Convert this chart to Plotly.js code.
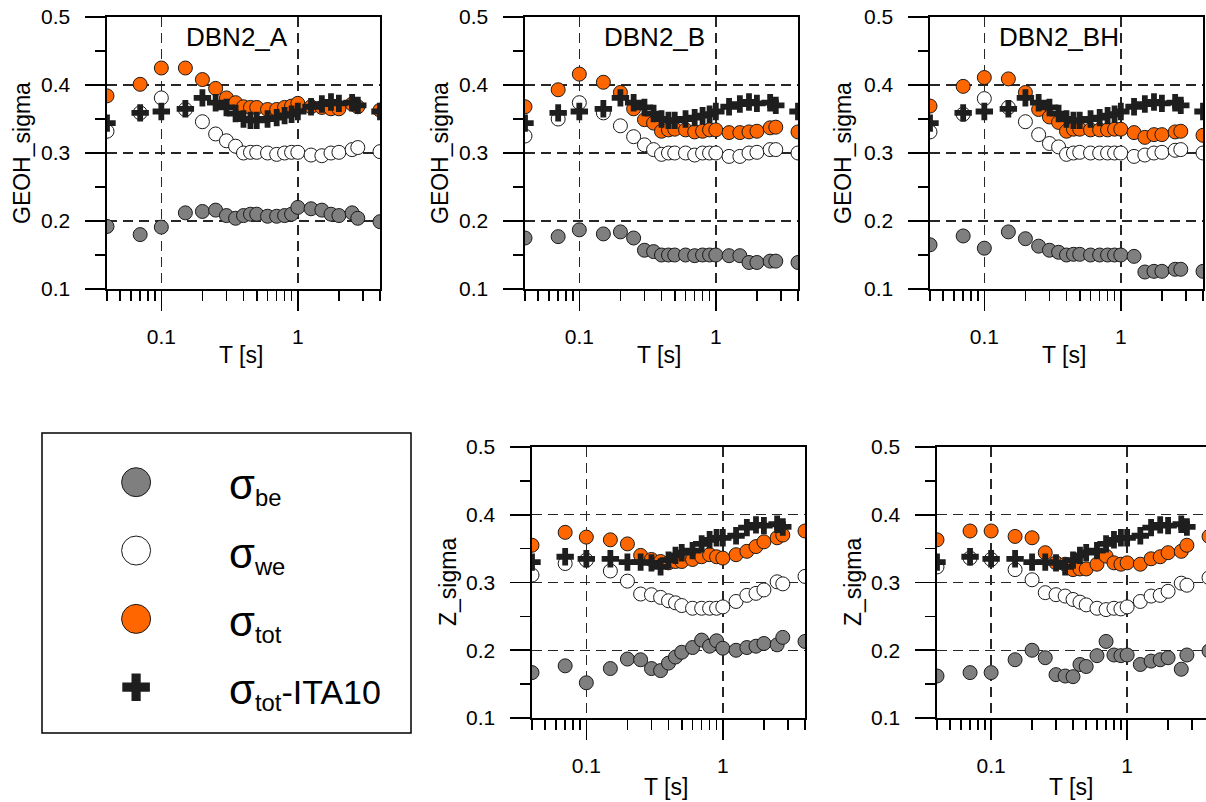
<!DOCTYPE html>
<html>
<head>
<meta charset="utf-8">
<script src="https://cdn.plot.ly/plotly-3.0.1.min.js"></script>
<style>html,body{margin:0;padding:0;background:#fff;}#chart{width:1206px;height:802px;}</style>
</head>
<body>
<div id="chart"></div>
<script>
// Periods (s)
const T = [0.04, 0.07, 0.1, 0.15, 0.2, 0.25, 0.3, 0.35, 0.4, 0.45, 0.5, 0.6, 0.7, 0.8, 0.9, 1.0, 1.25, 1.5, 1.75, 2.0, 2.5, 2.75, 4.0];

// DBN2_A (GEOH)
const A_be  = [0.192,0.180,0.191,0.212,0.214,0.216,0.208,0.204,0.208,0.210,0.210,0.207,0.207,0.208,0.210,0.220,0.218,0.216,0.210,0.208,0.212,0.204,0.199];
const A_we  = [0.332,0.359,0.381,0.364,0.346,0.328,0.318,0.310,0.300,0.301,0.301,0.300,0.298,0.300,0.301,0.301,0.297,0.296,0.300,0.301,0.305,0.308,0.302];
const A_tot = [0.384,0.401,0.425,0.425,0.408,0.395,0.381,0.374,0.368,0.367,0.367,0.364,0.364,0.367,0.369,0.373,0.368,0.367,0.365,0.365,0.372,0.368,0.363];
// DBN2_B (GEOH)
const B_be  = [0.175,0.177,0.187,0.181,0.184,0.175,0.157,0.155,0.150,0.150,0.150,0.150,0.149,0.150,0.150,0.150,0.149,0.149,0.139,0.139,0.141,0.141,0.139];
const B_we  = [0.325,0.350,0.374,0.359,0.340,0.324,0.312,0.305,0.298,0.300,0.300,0.300,0.297,0.300,0.300,0.300,0.295,0.295,0.300,0.301,0.305,0.305,0.300];
const B_tot = [0.368,0.393,0.416,0.404,0.389,0.365,0.349,0.344,0.332,0.334,0.335,0.334,0.331,0.332,0.334,0.334,0.330,0.330,0.331,0.332,0.337,0.338,0.331];
// DBN2_BH (GEOH)
const BH_be  = [0.165,0.178,0.160,0.184,0.174,0.163,0.157,0.154,0.150,0.151,0.151,0.150,0.150,0.150,0.150,0.150,0.148,0.125,0.126,0.126,0.129,0.129,0.126];
const BH_we  = [0.331,0.357,0.380,0.367,0.346,0.327,0.314,0.309,0.298,0.300,0.301,0.300,0.300,0.300,0.300,0.300,0.295,0.297,0.300,0.301,0.304,0.305,0.300];
const BH_tot = [0.369,0.398,0.411,0.409,0.389,0.364,0.353,0.345,0.332,0.335,0.335,0.334,0.334,0.334,0.335,0.335,0.330,0.323,0.327,0.327,0.331,0.332,0.326];
// ITA10 total sigma (GEOH)
const GEOH_ITA10 = [0.344,0.359,0.361,0.365,0.381,0.374,0.367,0.358,0.350,0.348,0.348,0.350,0.352,0.355,0.357,0.361,0.368,0.372,0.375,0.373,0.374,0.370,0.361];

// Z component, panel 1
const Z1_be  = [0.167,0.177,0.152,0.173,0.187,0.186,0.173,0.170,0.181,0.190,0.197,0.204,0.215,0.206,0.214,0.203,0.200,0.204,0.206,0.210,0.208,0.219,0.213];
const Z1_we  = [0.311,0.328,0.333,0.317,0.302,0.283,0.282,0.278,0.273,0.270,0.266,0.262,0.262,0.262,0.262,0.264,0.272,0.281,0.284,0.289,0.301,0.298,0.309];
const Z1_tot = [0.355,0.374,0.367,0.363,0.357,0.340,0.334,0.331,0.329,0.331,0.331,0.334,0.338,0.341,0.338,0.336,0.341,0.346,0.353,0.360,0.366,0.370,0.376];
// Z component, panel 2
const Z2_be  = [0.162,0.167,0.167,0.186,0.200,0.189,0.164,0.162,0.161,0.179,0.176,0.192,0.213,0.193,0.192,0.193,0.179,0.184,0.186,0.189,0.172,0.193,0.199];
const Z2_we  = [0.323,0.336,0.334,0.319,0.304,0.285,0.282,0.280,0.275,0.271,0.267,0.262,0.260,0.262,0.261,0.264,0.272,0.280,0.281,0.287,0.299,0.296,0.307];
const Z2_tot = [0.363,0.376,0.376,0.368,0.366,0.344,0.329,0.327,0.319,0.320,0.320,0.327,0.339,0.329,0.327,0.329,0.327,0.335,0.338,0.344,0.346,0.355,0.368];
// ITA10 total sigma (Z)
const Z_ITA10 = [0.330,0.338,0.335,0.335,0.330,0.330,0.329,0.323,0.333,0.340,0.344,0.347,0.357,0.363,0.366,0.366,0.369,0.381,0.385,0.384,0.386,0.382,null];

const panelTitles = ['DBN2_A', 'DBN2_B', 'DBN2_BH', '', ''];
const yTitles = ['GEOH_sigma', 'GEOH_sigma', 'GEOH_sigma', 'Z_sigma', 'Z_sigma'];
const xTitle = 'T [s]';
const seriesNames = ['be', 'we', 'tot', 'tot-ITA10'];
const xTickVals = [0.1, 1];
const xTickText = ['0.1', '1'];
const xMinorVals = [0.04,0.05,0.06,0.07,0.08,0.09,0.2,0.3,0.4,0.5,0.6,0.7,0.8,0.9,2,3,4];
const yTickVals = [0.1, 0.2, 0.3, 0.4, 0.5];
const yTickText = ['0.1', '0.2', '0.3', '0.4', '0.5'];
const yMinorVals = [0.15, 0.25, 0.35, 0.45];

const panels = [
  {be: A_be,  we: A_we,  tot: A_tot,  ita: GEOH_ITA10},
  {be: B_be,  we: B_we,  tot: B_tot,  ita: GEOH_ITA10},
  {be: BH_be, we: BH_we, tot: BH_tot, ita: GEOH_ITA10},
  {be: Z1_be, we: Z1_we, tot: Z1_tot, ita: Z_ITA10},
  {be: Z2_be, we: Z2_we, tot: Z2_tot, ita: Z_ITA10}
];

// ---- styles / layout ----
const W = 1206, H = 802;
const FONT = 'Liberation Sans, Arial, Helvetica, sans-serif';
const px = v => v / W;
const py = v => 1 - v / H;

// plot areas in pixels [x0, x1, ytop, ybottom]
const boxes = [
  [107, 380, 17, 289],
  [525, 798, 17, 289],
  [930, 1203, 17, 289],
  [532, 805, 447, 718],
  [937, 1206, 447, 718]
];
const xRanges = [
  [Math.log10(0.04), Math.log10(4)],
  [Math.log10(0.04), Math.log10(4)],
  [Math.log10(0.04), Math.log10(4)],
  [Math.log10(0.04), Math.log10(4)],
  [Math.log10(0.04), Math.log10(3.8)]
];

const styles = {
  be:  {symbol: 'circle', size: 14, color: '#7f7f7f', line: {color: '#1a1a1a', width: 1}},
  we:  {symbol: 'circle', size: 14, color: '#ffffff', line: {color: '#1a1a1a', width: 1}},
  tot: {symbol: 'circle', size: 14, color: '#ff6600', line: {color: '#1a1a1a', width: 1}},
  ita: {symbol: 'cross',  size: 14.5, color: '#1e1e1e', line: {width: 0}}
};
const legendStyles = {
  be:  {symbol: 'circle', size: 29, color: '#7f7f7f', line: {color: '#1a1a1a', width: 1}},
  we:  {symbol: 'circle', size: 29, color: '#ffffff', line: {color: '#1a1a1a', width: 1}},
  tot: {symbol: 'circle', size: 29, color: '#ff6600', line: {color: '#1a1a1a', width: 1}},
  ita: {symbol: 'cross',  size: 23, color: '#1e1e1e', line: {width: 0}}
};
const keys = ['be', 'we', 'tot', 'ita'];

const data = [];
const layout = {
  width: W, height: H,
  margin: {l: 0, r: 0, t: 0, b: 0},
  paper_bgcolor: '#fff', plot_bgcolor: '#fff',
  showlegend: false,
  font: {family: FONT, color: '#000'},
  annotations: [],
  shapes: []
};

panels.forEach((p, i) => {
  const n = i + 1;
  const xa = 'x' + n, ya = 'y' + n;
  keys.forEach(k => {
    data.push({
      type: 'scatter', mode: 'markers', x: T, y: p[k],
      xaxis: xa, yaxis: ya, marker: styles[k], hoverinfo: 'x+y'
    });
  });
  const b = boxes[i];
  layout['xaxis' + n] = {
    type: 'log', domain: [px(b[0]), px(b[1])], range: xRanges[i], anchor: ya,
    showline: true, linecolor: '#000', linewidth: 2, mirror: true,
    ticks: 'outside', ticklen: 20, tickwidth: 1.6, tickcolor: '#000',
    tickmode: 'array', tickvals: xTickVals, ticktext: xTickText,
    tickfont: {family: FONT, size: 21, color: '#000'}, ticklabelstandoff: 8,
    showgrid: true, gridcolor: '#262626', gridwidth: 1.4, griddash: '10px,6px',
    zeroline: false,
    minor: {ticks: 'outside', ticklen: 10, tickwidth: 1.6, tickcolor: '#000',
            tickmode: 'array', tickvals: xMinorVals, showgrid: false}
  };
  layout['yaxis' + n] = {
    domain: [py(b[3]), py(b[2])], range: [0.1, 0.5], anchor: xa,
    showline: true, linecolor: '#000', linewidth: 2, mirror: i === 4 ? false : true,
    ticks: 'outside', ticklen: 20, tickwidth: 1.6, tickcolor: '#000',
    tickmode: 'array', tickvals: yTickVals, ticktext: yTickText.map(t => t + '\u2002'),
    tickfont: {family: FONT, size: 21, color: '#000'},
    showgrid: true, gridcolor: '#262626', gridwidth: 1.4, griddash: '10px,6px',
    zeroline: false,
    minor: {ticks: 'outside', ticklen: 10, tickwidth: 1.6, tickcolor: '#000',
            tickmode: 'array', tickvals: yMinorVals, showgrid: false}
  };
});

// axis titles & panel titles
const yTitlePos = [[22, 153], [440, 153], [843, 153], [448, 582], [853, 582]];
const xTitlePos = [[241, 355], [659, 355], [1064, 355], [666, 787], [1071, 787]];
const panelTitlePos = [[237, 37], [654, 37], [1059, 37]];
yTitles.forEach((t, i) => {
  layout.annotations.push({
    text: t, xref: 'paper', yref: 'paper', x: px(yTitlePos[i][0]), y: py(yTitlePos[i][1]),
    textangle: -90, showarrow: false, xanchor: 'center', yanchor: 'middle',
    font: {family: FONT, size: 23, color: '#000'}
  });
  layout.annotations.push({
    text: xTitle, xref: 'paper', yref: 'paper', x: px(xTitlePos[i][0]), y: py(xTitlePos[i][1]),
    showarrow: false, xanchor: 'center', yanchor: 'middle',
    font: {family: FONT, size: 23, color: '#000'}
  });
});
panelTitles.forEach((t, i) => {
  if (!t) return;
  layout.annotations.push({
    text: t, xref: 'paper', yref: 'paper', x: px(panelTitlePos[i][0]), y: py(panelTitlePos[i][1]),
    showarrow: false, xanchor: 'center', yanchor: 'middle',
    font: {family: FONT, size: 26, color: '#000'}
  });
});

// ---- legend box (separate hidden axes) ----
const LB = [42, 411, 433, 733];
layout.shapes.push({
  type: 'rect', xref: 'paper', yref: 'paper',
  x0: px(LB[0]), x1: px(LB[1]), y0: py(LB[3]), y1: py(LB[2]),
  line: {color: '#000', width: 1.5}, fillcolor: 'rgba(0,0,0,0)'
});
layout.xaxis6 = {domain: [px(LB[0]), px(LB[1])], range: [0, 1], visible: false, anchor: 'y6', fixedrange: true};
layout.yaxis6 = {domain: [py(LB[3]), py(LB[2])], type: 'category', categoryorder: 'array',
                 categoryarray: seriesNames, range: [3.67, -0.72], visible: false, anchor: 'x6', fixedrange: true};
keys.forEach((k, j) => {
  data.push({
    type: 'scatter', mode: 'markers', x: [0.255], y: [seriesNames[j]],
    xaxis: 'x6', yaxis: 'y6', marker: legendStyles[k], hoverinfo: 'skip'
  });
  const sub = seriesNames[j].split('-');
  const label = '<span style="font-size:42px">σ</span><sub>' + sub[0] + '</sub>' + (sub[1] ? '-' + sub[1] : '');
  layout.annotations.push({
    text: label, xref: 'x6', yref: 'y6', x: 0.5, y: seriesNames[j],
    showarrow: false, xanchor: 'left', yanchor: 'middle', yshift: -4,
    font: {family: FONT, size: 34, color: '#000'}
  });
});

Plotly.newPlot('chart', data, layout, {displayModeBar: false, staticPlot: true});
</script>
</body>
</html>
